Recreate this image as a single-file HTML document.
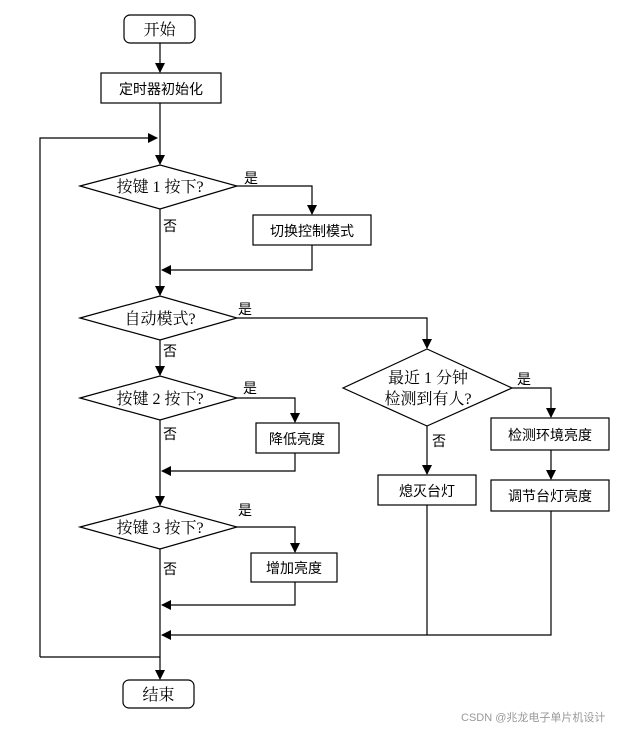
<!DOCTYPE html>
<html><head><meta charset="utf-8"><style>
body{margin:0;background:#fff}
text{font-family:"Liberation Serif","Noto Serif CJK SC","Noto Sans CJK SC",serif;font-size:15px;fill:#000}
.s{font-family:"Liberation Sans","Noto Sans CJK SC",sans-serif;font-size:14px}
</style></head><body>
<svg width="617" height="728" viewBox="0 0 617 728" xmlns="http://www.w3.org/2000/svg">
<defs><marker id="a" markerWidth="10" markerHeight="10" refX="9" refY="5" orient="auto" markerUnits="userSpaceOnUse"><path d="M0,0 L10,5 L0,10 z" fill="#000"/></marker></defs>
<g stroke="#000" stroke-width="1.2" fill="none">
<rect x="124" y="15" width="71" height="28" rx="6"/>
<rect x="101" y="73" width="120" height="30" fill="#fff"/>
<polygon points="80,186 160,165 237,186 160,209" fill="#fff"/>
<rect x="253" y="215" width="118" height="30"/>
<polygon points="80,318 160,296 237,318 160,340"/>
<polygon points="343,388 427,349 512,388 427,426"/>
<rect x="491" y="418" width="118" height="32"/>
<rect x="491" y="480" width="118" height="31"/>
<rect x="378" y="475" width="98" height="30"/>
<polygon points="80,398 160,376 237,398 160,420"/>
<rect x="256" y="423" width="83" height="30"/>
<polygon points="80,527 160,506 237,527 160,549"/>
<rect x="251" y="553" width="86" height="29"/>
<rect x="123" y="680" width="71" height="28" rx="6"/>
</g>
<g stroke="#000" stroke-width="1.2" fill="none">
<path d="M160,43 V72" marker-end="url(#a)"/>
<path d="M160,103 V164" marker-end="url(#a)"/>
<path d="M40,657 V138 H157" marker-end="url(#a)"/>
<path d="M40,657 H160"/>
<path d="M237,186 H312 V214" marker-end="url(#a)"/>
<path d="M312,245 V270 H162" marker-end="url(#a)"/>
<path d="M160,209 V295" marker-end="url(#a)"/>
<path d="M237,318 H427 V348" marker-end="url(#a)"/>
<path d="M512,388 H551 V417" marker-end="url(#a)"/>
<path d="M551,450 V479" marker-end="url(#a)"/>
<path d="M427,426 V474" marker-end="url(#a)"/>
<path d="M427,505 V635"/>
<path d="M551,511 V635 H162" marker-end="url(#a)"/>
<path d="M160,340 V375" marker-end="url(#a)"/>
<path d="M237,398 H295 V422" marker-end="url(#a)"/>
<path d="M295,453 V471 H162" marker-end="url(#a)"/>
<path d="M160,420 V505" marker-end="url(#a)"/>
<path d="M237,527 H295 V552" marker-end="url(#a)"/>
<path d="M295,582 V605 H162" marker-end="url(#a)"/>
<path d="M160,549 V679" marker-end="url(#a)"/>
</g>
<text x="159.5" y="35" text-anchor="middle" style="font-size:16px">开始</text>
<text class="s" x="161" y="94" text-anchor="middle">定时器初始化</text>
<text x="160" y="192" text-anchor="middle" style="font-size:16px">按键 1 按下?</text>
<text class="s" x="244" y="183">是</text>
<text class="s" x="163" y="231">否</text>
<text class="s" x="312" y="236" text-anchor="middle">切换控制模式</text>
<text x="160" y="324" text-anchor="middle" style="font-size:16px">自动模式?</text>
<text class="s" x="238" y="314">是</text>
<text class="s" x="163" y="356">否</text>
<text x="428" y="383" text-anchor="middle" style="font-size:16px">最近 1 分钟</text>
<text x="428" y="404" text-anchor="middle" style="font-size:16px">检测到有人?</text>
<text class="s" x="517" y="384">是</text>
<text class="s" x="432" y="446">否</text>
<text class="s" x="550" y="440" text-anchor="middle">检测环境亮度</text>
<text class="s" x="550" y="501" text-anchor="middle">调节台灯亮度</text>
<text class="s" x="427" y="496" text-anchor="middle">熄灭台灯</text>
<text x="160" y="404" text-anchor="middle" style="font-size:16px">按键 2 按下?</text>
<text class="s" x="243" y="393">是</text>
<text class="s" x="163" y="439">否</text>
<text class="s" x="297" y="444" text-anchor="middle">降低亮度</text>
<text x="160" y="533" text-anchor="middle" style="font-size:16px">按键 3 按下?</text>
<text class="s" x="238" y="515">是</text>
<text class="s" x="163" y="574">否</text>
<text class="s" x="294" y="573" text-anchor="middle">增加亮度</text>
<text x="158.5" y="700" text-anchor="middle" style="font-size:16px">结束</text>
<text class="s" x="461" y="721" style="font-size:11px;fill:#999">CSDN @兆龙电子单片机设计</text>
</svg>
</body></html>
